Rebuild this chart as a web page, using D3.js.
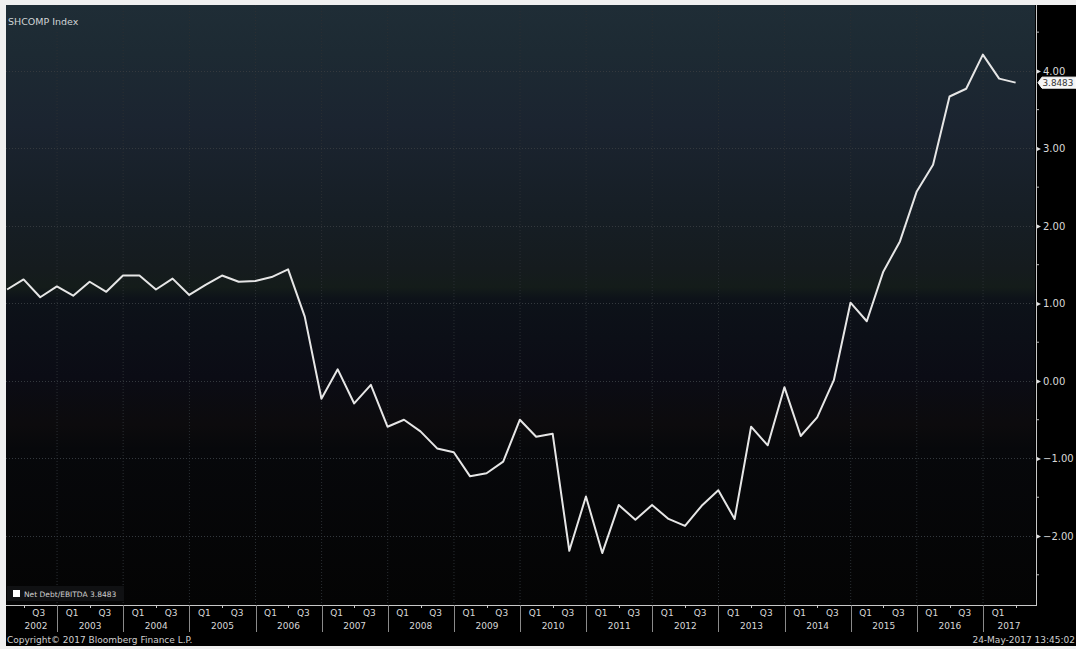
<!DOCTYPE html>
<html>
<head>
<meta charset="utf-8">
<script src="https://cdn.jsdelivr.net/npm/d3@7"></script>
<style>
  html, body { margin: 0; padding: 0; background: #f0f0f0; }
  svg { display: block; }
  text { font-family: "DejaVu Sans", Verdana, sans-serif; }
</style>
</head>
<body>
<svg id="chart" width="1076" height="649"></svg>
<script>
// ---------------- DATA ----------------
const quarterEnds = [
  "2002-03-31","2002-06-30","2002-09-30","2002-12-31",
  "2003-03-31","2003-06-30","2003-09-30","2003-12-31",
  "2004-03-31","2004-06-30","2004-09-30","2004-12-31",
  "2005-03-31","2005-06-30","2005-09-30","2005-12-31",
  "2006-03-31","2006-06-30","2006-09-30","2006-12-31",
  "2007-03-31","2007-06-30","2007-09-30","2007-12-31",
  "2008-03-31","2008-06-30","2008-09-30","2008-12-31",
  "2009-03-31","2009-06-30","2009-09-30","2009-12-31",
  "2010-03-31","2010-06-30","2010-09-30","2010-12-31",
  "2011-03-31","2011-06-30","2011-09-30","2011-12-31",
  "2012-03-31","2012-06-30","2012-09-30","2012-12-31",
  "2013-03-31","2013-06-30","2013-09-30","2013-12-31",
  "2014-03-31","2014-06-30","2014-09-30","2014-12-31",
  "2015-03-31","2015-06-30","2015-09-30","2015-12-31",
  "2016-03-31","2016-06-30","2016-09-30","2016-12-31",
  "2017-03-31","2017-06-30"
];
const netDebtEbitda = [
  1.18, 1.31, 1.08, 1.22,
  1.10, 1.28, 1.15, 1.36,
  1.36, 1.18, 1.32, 1.11,
  1.24, 1.36, 1.28, 1.29,
  1.34, 1.44, 0.83, -0.23,
  0.15, -0.29, -0.05, -0.59,
  -0.50, -0.65, -0.87, -0.92,
  -1.23, -1.19, -1.04, -0.50,
  -0.72, -0.68, -2.19, -1.49,
  -2.22, -1.60, -1.79, -1.60,
  -1.78, -1.87, -1.61, -1.41,
  -1.78, -0.59, -0.83, -0.08,
  -0.71, -0.47, 0.01, 1.01,
  0.77, 1.41, 1.80, 2.44,
  2.79, 3.67, 3.77, 4.21,
  3.90, 3.8483
];
const yMajorTicks = [-2, -1, 0, 1, 2, 3, 4];
const yMinorTicks = [-2.5, -1.5, -0.5, 0.5, 1.5, 2.5, 3.5, 4.5];
const yearLabels = ["2002","2003","2004","2005","2006","2007","2008","2009",
                    "2010","2011","2012","2013","2014","2015","2016","2017"];
const quarterLabels = [{q: "Q1", month: 0}, {q: "Q3", month: 6}];
const titleText = "SHCOMP Index";
const legendText = "Net Debt/EBITDA 3.8483";
const lastValueText = "3.8483";
const copyrightText = "Copyright\u00A9 2017 Bloomberg Finance L.P.";
const stampText = "24-May-2017 13:45:02";

// ---------------- LAYOUT ----------------
const W = 1076, H = 649;
const plot = { left: 6, right: 1035, top: 5, bottom: 605 };
const parse = d3.timeParse("%Y-%m-%d");
const data = quarterEnds.map((d, i) => ({ date: parse(d), value: netDebtEbitda[i] }));

const x = d3.scaleTime()
  .domain([new Date(2002, 2, 25), new Date(2017, 9, 15)])
  .range([plot.left, plot.right]);
const y = d3.scaleLinear()
  .domain([-2.89, 4.85])
  .range([plot.bottom, plot.top]);

const svg = d3.select("#chart");

// outer frame
svg.append("rect").attr("x", 0).attr("y", 0).attr("width", W).attr("height", H).attr("fill", "#f0f0f0");
// black panel (axes area)
svg.append("rect").attr("x", plot.left).attr("y", plot.top)
  .attr("width", W - plot.left).attr("height", 646 - plot.top).attr("fill", "#000");

// gradient background of plot
const defs = svg.append("defs");
const grad = defs.append("linearGradient").attr("id", "bg")
  .attr("x1", 0).attr("y1", 0).attr("x2", 0).attr("y2", 1);
[
  [0.00, "#1f2d36"],
  [0.08, "#1d2a33"],
  [0.20, "#1b2430"],
  [0.35, "#161e25"],
  [0.44, "#151b1e"],
  [0.47, "#141c1a"],
  [0.49, "#0d1219"],
  [0.62, "#0b0c15"],
  [0.70, "#0c0b0d"],
  [0.74, "#07080b"],
  [1.00, "#040404"]
].forEach(([o, c]) => grad.append("stop").attr("offset", o).attr("stop-color", c));
svg.append("rect").attr("x", plot.left).attr("y", plot.top)
  .attr("width", plot.right - plot.left).attr("height", plot.bottom - plot.top)
  .attr("fill", "url(#bg)");

// grid
const yearStarts = yearLabels.map(s => new Date(+s, 0, 1)).filter(d => x(d) > plot.left && x(d) < plot.right);
svg.append("g").selectAll("line").data(yearStarts).join("line")
  .attr("x1", d => x(d)).attr("x2", d => x(d))
  .attr("y1", plot.top).attr("y2", plot.bottom)
  .attr("stroke", "#2a2f33").attr("stroke-width", 1).attr("stroke-dasharray", "1,2");
svg.append("g").selectAll("line").data(yMajorTicks).join("line")
  .attr("x1", plot.left).attr("x2", plot.right)
  .attr("y1", d => Math.round(y(d)) + 0.5).attr("y2", d => Math.round(y(d)) + 0.5)
  .attr("stroke", "#34393e").attr("stroke-width", 1).attr("stroke-dasharray", "1,2");

// title
svg.append("text").attr("x", 8).attr("y", 25).attr("font-size", 9.5)
  .attr("fill", "#d0d4d6").text(titleText);

// line
const line = d3.line().x(d => x(d.date)).y(d => y(d.value));
svg.append("path").datum(data).attr("d", line)
  .attr("fill", "none").attr("stroke", "#e6e6e6").attr("stroke-width", 2)
  .attr("stroke-linejoin", "round");

// legend
svg.append("rect").attr("x", 7).attr("y", 586).attr("width", 117).attr("height", 15).attr("fill", "#101113");
svg.append("rect").attr("x", 13).attr("y", 590).attr("width", 7).attr("height", 7).attr("fill", "#ffffff");
svg.append("text").attr("x", 24).attr("y", 597).attr("font-size", 7.5).attr("fill", "#d0d0d0").text(legendText);

// ---------------- Y AXIS (right) ----------------
const yAxisG = svg.append("g").attr("transform", `translate(${plot.right + 1},0)`)
  .call(d3.axisRight(y).tickValues(yMajorTicks).tickFormat(d3.format(".2f")).tickSize(0).tickPadding(7));
yAxisG.select(".domain").remove();
yAxisG.selectAll("text").attr("fill", "#d8d8d8").attr("font-size", 10)
  .attr("font-family", "DejaVu Sans, Verdana, sans-serif");
yAxisG.selectAll(".tick").append("path").attr("d", "M0,-2.5L5,0L0,2.5Z").attr("fill", "#e0e0e0");
svg.append("g").selectAll("line").data(yMinorTicks).join("line")
  .attr("x1", plot.right + 1).attr("x2", plot.right + 4)
  .attr("y1", d => y(d)).attr("y2", d => y(d)).attr("stroke", "#bbbbbb");
svg.append("line").attr("x1", plot.right + 1.5).attr("x2", plot.right + 1.5)
  .attr("y1", plot.top).attr("y2", plot.bottom).attr("stroke", "#c8c8c8").attr("stroke-width", 1);

// last value marker
const ly = y(netDebtEbitda[netDebtEbitda.length - 1]);
svg.append("path")
  .attr("d", `M${plot.right + 3},${ly} L${plot.right + 7},${ly - 5.5} L${W},${ly - 5.5} L${W},${ly + 5.5} L${plot.right + 7},${ly + 5.5} Z`)
  .attr("fill", "#f4f4f4").attr("stroke", "#ffffff");
svg.append("text").attr("x", plot.right + 7.5).attr("y", ly + 3.3).attr("font-size", 8.8)
  .attr("fill", "#333").text(lastValueText);

// ---------------- X AXIS (bottom) ----------------
svg.append("line").attr("x1", plot.left).attr("x2", plot.right + 2)
  .attr("y1", plot.bottom + 0.5).attr("y2", plot.bottom + 0.5).attr("stroke", "#c8c8c8");
// year separators
svg.append("g").selectAll("line").data(yearStarts).join("line")
  .attr("x1", d => Math.round(x(d)) + 0.5).attr("x2", d => Math.round(x(d)) + 0.5)
  .attr("y1", plot.bottom).attr("y2", 632).attr("stroke", "#8a8a8a");
// mid-year ticks
const midYears = yearLabels.map(s => new Date(+s, 6, 1)).filter(d => x(d) > plot.left && x(d) < plot.right);
svg.append("g").selectAll("line").data(midYears).join("line")
  .attr("x1", d => Math.round(x(d)) + 0.5).attr("x2", d => Math.round(x(d)) + 0.5)
  .attr("y1", plot.bottom).attr("y2", plot.bottom + 3).attr("stroke", "#c8c8c8");
// quarter labels
const qItems = [];
yearLabels.forEach(yr => quarterLabels.forEach(q => {
  const d = new Date(+yr, q.month, 1);
  const cx = x(d) + 15;
  if (d >= x.domain()[0] && cx < plot.right - 10) qItems.push({ label: q.q, cx });
}));
svg.append("g").selectAll("text").data(qItems).join("text")
  .attr("x", d => d.cx).attr("y", 616).attr("text-anchor", "middle")
  .attr("font-size", 9).attr("fill", "#d8d8d8").text(d => d.label);
// year labels
const yItems = yearLabels.map(yr => {
  const s = x(new Date(+yr, 0, 1)), e = x(new Date(+yr + 1, 0, 1));
  const cs = Math.max(s, plot.left + 9), ce = Math.min(e, plot.right);
  return { label: yr, cx: (cs + ce) / 2 };
});
svg.append("g").selectAll("text").data(yItems).join("text")
  .attr("x", d => d.cx).attr("y", 629).attr("text-anchor", "middle")
  .attr("font-size", 9).attr("fill", "#d8d8d8").text(d => d.label);

// footer
svg.append("text").attr("x", 7).attr("y", 643).attr("font-size", 9).attr("fill", "#d0d0d0").text(copyrightText);
svg.append("text").attr("x", W - 1).attr("y", 643).attr("text-anchor", "end")
  .attr("font-size", 9).attr("fill", "#d0d0d0").text(stampText);
</script>
</body>
</html>
